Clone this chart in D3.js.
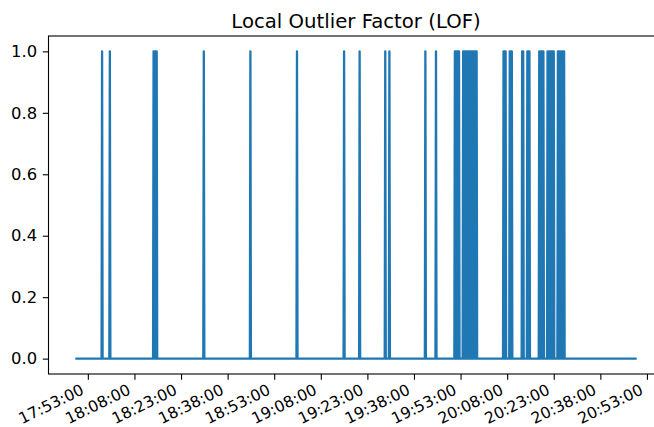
<!DOCTYPE html>
<html><head><meta charset="utf-8">
<script src="https://cdn.jsdelivr.net/npm/d3@7"></script>
<style>
body{margin:0;background:#fff}
svg{display:block}
text{font-family:"DejaVu Sans",sans-serif;fill:#000}
</style>
</head><body>
<svg id="chart" width="654" height="427"></svg>
<script>
// ---- data ----
const chartTitle = "Local Outlier Factor (LOF)";
const day = "2023-01-01";
const seriesStart = "17:49:20";
const seriesEnd = "20:49:20";
const sampleStepSeconds = 10;
// timestamps flagged as outliers (value 1); every other sample is 0
const outlierTimes = [
  "17:57:35","18:00:05",
  "18:14:10","18:14:30","18:14:50","18:15:10",
  "18:30:20","18:45:20","19:00:20","19:15:30","19:20:30",
  "19:28:45","19:30:05","19:41:40","19:45:05",
  "19:51:10","19:51:30","19:51:50","19:52:10","19:52:30",
  "19:53:50","19:54:10","19:54:30","19:54:50","19:55:10","19:55:30","19:55:50",
  "19:56:10","19:56:30","19:56:50","19:57:10","19:57:30","19:57:50","19:58:10",
  "20:06:50","20:07:10","20:07:30","20:08:50","20:09:10","20:09:30",
  "20:12:50","20:13:10","20:14:30","20:14:50","20:15:10",
  "20:18:20","20:18:40","20:19:00","20:19:20","20:19:40",
  "20:21:00","20:21:20","20:21:40","20:22:00","20:22:20","20:22:40","20:23:00",
  "20:24:20","20:24:40","20:25:00","20:25:20","20:25:40","20:26:00","20:26:20"
];
const xTickLabels = ["17:53:00","18:08:00","18:23:00","18:38:00","18:53:00","19:08:00","19:23:00",
  "19:38:00","19:53:00","20:08:00","20:23:00","20:38:00","20:53:00"];
const yTickValues = [0.0, 0.2, 0.4, 0.6, 0.8, 1.0];

// ---- build ----
(function () {
const parse = d3.timeParse("%Y-%m-%d %H:%M:%S");
const P = s => parse(day + " " + s);
const t0 = P(seriesStart), t1 = P(seriesEnd);
const step = sampleStepSeconds * 1000;

const points = [{t: t0, v: 0}];
outlierTimes.map(P).forEach(t => {
  points.push({t: new Date(+t - step), v: 0});
  points.push({t: t, v: 1});
  points.push({t: new Date(+t + step), v: 0});
});
points.push({t: t1, v: 0});

const mLeft = 48.5, mRight = 663.5, mTop = 36, mBottom = 374;
const span = t1 - t0;
const x = d3.scaleTime()
  .domain([new Date(+t0 - 0.05 * span), new Date(+t1 + 0.05 * span)])
  .range([mLeft, mRight]);
const y = d3.scaleLinear().domain([-0.05, 1.05]).range([mBottom, mTop]);

const svg = d3.select("#chart");
const tickLen = 5.7, pad = 5.7;

// line
svg.append("path")
  .datum(points)
  .attr("fill", "none")
  .attr("stroke", "#1f77b4")
  .attr("stroke-width", 2.3)
  .attr("stroke-linejoin", "round")
  .attr("stroke-linecap", "square")
  .attr("d", d3.line().x(d => x(d.t)).y(d => y(d.v)));

// x axis
const xAxis = svg.append("g")
  .attr("transform", `translate(0,${mBottom})`)
  .call(d3.axisBottom(x)
    .tickValues(xTickLabels.map(P))
    .tickFormat(d3.timeFormat("%H:%M:%S"))
    .tickSize(tickLen).tickSizeOuter(0));
xAxis.select(".domain").remove();
xAxis.selectAll("line").attr("stroke", "#000").attr("stroke-width", 1.1);
xAxis.selectAll("text")
  .attr("font-size", 15.6)
  .attr("font-family", "DejaVu Sans")
  .attr("fill", "#000")
  .attr("x", 0).attr("y", 0).attr("dy", null)
  .attr("text-anchor", "end")
  .attr("dominant-baseline", "central")
  .attr("transform", "translate(-5.5,15) rotate(-26)");

// y axis
const yAxis = svg.append("g")
  .attr("transform", `translate(${mLeft},0)`)
  .call(d3.axisLeft(y)
    .tickValues(yTickValues)
    .tickFormat(d3.format(".1f"))
    .tickSize(tickLen).tickPadding(pad).tickSizeOuter(0));
yAxis.select(".domain").remove();
yAxis.selectAll("line").attr("stroke", "#000").attr("stroke-width", 1.1);
yAxis.selectAll("text")
  .attr("font-size", 16.4)
  .attr("font-family", "DejaVu Sans")
  .attr("fill", "#000");

// frame
svg.append("rect")
  .attr("x", mLeft).attr("y", mTop)
  .attr("width", mRight - mLeft).attr("height", mBottom - mTop)
  .attr("fill", "none").attr("stroke", "#000").attr("stroke-width", 1.1);

// title
svg.append("text")
  .attr("x", (mLeft + mRight) / 2).attr("y", 27.5)
  .attr("text-anchor", "middle")
  .attr("font-size", 19.7)
  .text(chartTitle);
})();
</script>
</body></html>
